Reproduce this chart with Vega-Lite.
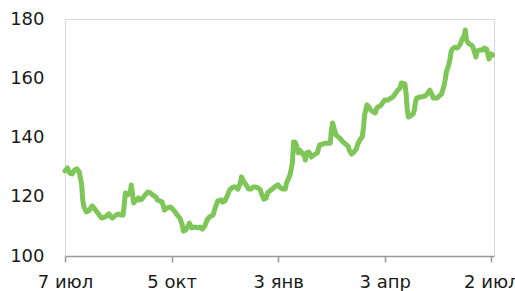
{
  "$schema": "https://vega.github.io/schema/vega-lite/v6.json",
  "width": 429,
  "height": 237,
  "autosize": {"type": "none"},
  "padding": {"left": 65, "top": 19, "right": 21, "bottom": 35},
  "background": "white",
  "config": {
    "view": {"stroke": "#d9d9d9", "strokeWidth": 1},
    "font": "DejaVu Sans"
  },
  "data": {
    "values": [
      {"date": "2014-07-07", "value": 128.7},
      {"date": "2014-07-09", "value": 129.7},
      {"date": "2014-07-11", "value": 128.0},
      {"date": "2014-07-13", "value": 127.7},
      {"date": "2014-07-15", "value": 129.0},
      {"date": "2014-07-17", "value": 129.4},
      {"date": "2014-07-19", "value": 128.4},
      {"date": "2014-07-20", "value": 126.3},
      {"date": "2014-07-21", "value": 124.3},
      {"date": "2014-07-22", "value": 118.9},
      {"date": "2014-07-23", "value": 116.5},
      {"date": "2014-07-25", "value": 114.9},
      {"date": "2014-07-27", "value": 115.2},
      {"date": "2014-07-30", "value": 116.9},
      {"date": "2014-08-01", "value": 115.9},
      {"date": "2014-08-03", "value": 114.9},
      {"date": "2014-08-06", "value": 113.2},
      {"date": "2014-08-07", "value": 112.8},
      {"date": "2014-08-10", "value": 113.2},
      {"date": "2014-08-11", "value": 113.5},
      {"date": "2014-08-13", "value": 114.2},
      {"date": "2014-08-15", "value": 113.2},
      {"date": "2014-08-16", "value": 112.8},
      {"date": "2014-08-19", "value": 113.8},
      {"date": "2014-08-21", "value": 114.2},
      {"date": "2014-08-23", "value": 113.8},
      {"date": "2014-08-25", "value": 113.8},
      {"date": "2014-08-26", "value": 117.2},
      {"date": "2014-08-27", "value": 121.3},
      {"date": "2014-08-29", "value": 120.6},
      {"date": "2014-08-31", "value": 121.6},
      {"date": "2014-09-01", "value": 124.0},
      {"date": "2014-09-03", "value": 117.9},
      {"date": "2014-09-05", "value": 118.9},
      {"date": "2014-09-07", "value": 119.6},
      {"date": "2014-09-08", "value": 118.9},
      {"date": "2014-09-10", "value": 119.2},
      {"date": "2014-09-12", "value": 120.3},
      {"date": "2014-09-15", "value": 121.6},
      {"date": "2014-09-17", "value": 121.3},
      {"date": "2014-09-19", "value": 120.6},
      {"date": "2014-09-22", "value": 119.9},
      {"date": "2014-09-23", "value": 118.9},
      {"date": "2014-09-25", "value": 118.6},
      {"date": "2014-09-27", "value": 118.2},
      {"date": "2014-09-28", "value": 116.9},
      {"date": "2014-09-29", "value": 115.5},
      {"date": "2014-10-01", "value": 116.2},
      {"date": "2014-10-04", "value": 116.5},
      {"date": "2014-10-05", "value": 116.2},
      {"date": "2014-10-08", "value": 114.9},
      {"date": "2014-10-09", "value": 114.2},
      {"date": "2014-10-12", "value": 112.8},
      {"date": "2014-10-14", "value": 110.5},
      {"date": "2014-10-15", "value": 108.4},
      {"date": "2014-10-17", "value": 108.8},
      {"date": "2014-10-19", "value": 110.1},
      {"date": "2014-10-20", "value": 111.1},
      {"date": "2014-10-22", "value": 109.5},
      {"date": "2014-10-25", "value": 109.8},
      {"date": "2014-10-27", "value": 109.5},
      {"date": "2014-10-29", "value": 109.8},
      {"date": "2014-10-31", "value": 109.1},
      {"date": "2014-11-02", "value": 110.1},
      {"date": "2014-11-04", "value": 112.2},
      {"date": "2014-11-06", "value": 113.2},
      {"date": "2014-11-09", "value": 113.8},
      {"date": "2014-11-11", "value": 116.5},
      {"date": "2014-11-13", "value": 118.6},
      {"date": "2014-11-16", "value": 118.9},
      {"date": "2014-11-17", "value": 118.2},
      {"date": "2014-11-19", "value": 118.6},
      {"date": "2014-11-21", "value": 120.3},
      {"date": "2014-11-23", "value": 122.3},
      {"date": "2014-11-26", "value": 123.3},
      {"date": "2014-11-28", "value": 123.3},
      {"date": "2014-11-30", "value": 122.6},
      {"date": "2014-12-02", "value": 124.6},
      {"date": "2014-12-03", "value": 126.7},
      {"date": "2014-12-05", "value": 125.0},
      {"date": "2014-12-07", "value": 124.0},
      {"date": "2014-12-09", "value": 122.6},
      {"date": "2014-12-11", "value": 122.6},
      {"date": "2014-12-13", "value": 123.3},
      {"date": "2014-12-15", "value": 123.3},
      {"date": "2014-12-17", "value": 123.0},
      {"date": "2014-12-19", "value": 122.3},
      {"date": "2014-12-20", "value": 120.9},
      {"date": "2014-12-22", "value": 119.2},
      {"date": "2014-12-24", "value": 119.6},
      {"date": "2014-12-25", "value": 121.3},
      {"date": "2014-12-28", "value": 122.3},
      {"date": "2014-12-29", "value": 122.6},
      {"date": "2015-01-01", "value": 123.6},
      {"date": "2015-01-03", "value": 124.0},
      {"date": "2015-01-04", "value": 123.3},
      {"date": "2015-01-07", "value": 122.6},
      {"date": "2015-01-09", "value": 122.6},
      {"date": "2015-01-10", "value": 124.6},
      {"date": "2015-01-13", "value": 127.3},
      {"date": "2015-01-15", "value": 131.4},
      {"date": "2015-01-16", "value": 138.5},
      {"date": "2015-01-17", "value": 138.5},
      {"date": "2015-01-18", "value": 137.8},
      {"date": "2015-01-20", "value": 134.8},
      {"date": "2015-01-21", "value": 135.8},
      {"date": "2015-01-23", "value": 134.8},
      {"date": "2015-01-25", "value": 133.8},
      {"date": "2015-01-26", "value": 132.4},
      {"date": "2015-01-27", "value": 134.8},
      {"date": "2015-01-29", "value": 135.1},
      {"date": "2015-01-31", "value": 133.4},
      {"date": "2015-02-01", "value": 133.8},
      {"date": "2015-02-05", "value": 134.8},
      {"date": "2015-02-06", "value": 136.1},
      {"date": "2015-02-07", "value": 137.5},
      {"date": "2015-02-10", "value": 137.8},
      {"date": "2015-02-11", "value": 138.1},
      {"date": "2015-02-14", "value": 138.1},
      {"date": "2015-02-16", "value": 138.1},
      {"date": "2015-02-17", "value": 142.5},
      {"date": "2015-02-18", "value": 144.9},
      {"date": "2015-02-20", "value": 141.9},
      {"date": "2015-02-21", "value": 140.8},
      {"date": "2015-02-24", "value": 139.8},
      {"date": "2015-02-26", "value": 138.8},
      {"date": "2015-02-28", "value": 138.1},
      {"date": "2015-03-03", "value": 137.1},
      {"date": "2015-03-04", "value": 135.8},
      {"date": "2015-03-06", "value": 134.4},
      {"date": "2015-03-08", "value": 135.1},
      {"date": "2015-03-10", "value": 136.1},
      {"date": "2015-03-11", "value": 137.5},
      {"date": "2015-03-13", "value": 139.2},
      {"date": "2015-03-15", "value": 140.2},
      {"date": "2015-03-16", "value": 143.2},
      {"date": "2015-03-17", "value": 147.6},
      {"date": "2015-03-19", "value": 151.0},
      {"date": "2015-03-21", "value": 150.0},
      {"date": "2015-03-23", "value": 148.9},
      {"date": "2015-03-26", "value": 148.3},
      {"date": "2015-03-27", "value": 149.6},
      {"date": "2015-03-28", "value": 150.3},
      {"date": "2015-03-30", "value": 150.6},
      {"date": "2015-03-31", "value": 151.0},
      {"date": "2015-04-03", "value": 152.7},
      {"date": "2015-04-06", "value": 152.7},
      {"date": "2015-04-07", "value": 153.0},
      {"date": "2015-04-10", "value": 153.7},
      {"date": "2015-04-11", "value": 154.3},
      {"date": "2015-04-14", "value": 156.0},
      {"date": "2015-04-16", "value": 156.7},
      {"date": "2015-04-17", "value": 158.4},
      {"date": "2015-04-20", "value": 158.1},
      {"date": "2015-04-21", "value": 155.0},
      {"date": "2015-04-22", "value": 149.3},
      {"date": "2015-04-23", "value": 146.9},
      {"date": "2015-04-25", "value": 147.3},
      {"date": "2015-04-27", "value": 147.9},
      {"date": "2015-04-28", "value": 149.3},
      {"date": "2015-04-29", "value": 152.0},
      {"date": "2015-04-30", "value": 153.3},
      {"date": "2015-05-03", "value": 153.7},
      {"date": "2015-05-04", "value": 153.7},
      {"date": "2015-05-07", "value": 154.0},
      {"date": "2015-05-08", "value": 154.3},
      {"date": "2015-05-11", "value": 156.0},
      {"date": "2015-05-13", "value": 154.3},
      {"date": "2015-05-14", "value": 153.3},
      {"date": "2015-05-15", "value": 153.3},
      {"date": "2015-05-17", "value": 153.3},
      {"date": "2015-05-19", "value": 154.0},
      {"date": "2015-05-21", "value": 154.7},
      {"date": "2015-05-23", "value": 157.4},
      {"date": "2015-05-24", "value": 159.4},
      {"date": "2015-05-25", "value": 162.1},
      {"date": "2015-05-27", "value": 164.5},
      {"date": "2015-05-28", "value": 166.2},
      {"date": "2015-05-29", "value": 168.9},
      {"date": "2015-05-30", "value": 169.9},
      {"date": "2015-06-01", "value": 170.5},
      {"date": "2015-06-03", "value": 170.2},
      {"date": "2015-06-04", "value": 170.5},
      {"date": "2015-06-06", "value": 171.6},
      {"date": "2015-06-07", "value": 172.9},
      {"date": "2015-06-09", "value": 174.3},
      {"date": "2015-06-10", "value": 176.3},
      {"date": "2015-06-11", "value": 172.9},
      {"date": "2015-06-13", "value": 171.6},
      {"date": "2015-06-15", "value": 171.2},
      {"date": "2015-06-16", "value": 170.9},
      {"date": "2015-06-17", "value": 169.9},
      {"date": "2015-06-19", "value": 167.2},
      {"date": "2015-06-20", "value": 169.2},
      {"date": "2015-06-22", "value": 169.5},
      {"date": "2015-06-24", "value": 169.5},
      {"date": "2015-06-26", "value": 170.2},
      {"date": "2015-06-27", "value": 169.5},
      {"date": "2015-06-28", "value": 169.9},
      {"date": "2015-06-30", "value": 166.5},
      {"date": "2015-07-01", "value": 167.5},
      {"date": "2015-07-02", "value": 168.2},
      {"date": "2015-07-03", "value": 167.8}
    ]
  },
  "mark": {
    "type": "line",
    "color": "#7dc657",
    "strokeWidth": 5,
    "strokeCap": "round",
    "strokeJoin": "round",
    "clip": false
  },
  "encoding": {
    "x": {
      "field": "date",
      "type": "temporal",
      "scale": {
        "type": "utc",
        "domain": [
          {"year": 2014, "month": 7, "date": 7, "utc": true},
          {"year": 2015, "month": 7, "date": 4, "hours": 6, "utc": true}
        ]
      },
      "axis": {
        "title": null,
        "values": [
          {"year": 2014, "month": 7, "date": 7, "utc": true},
          {"year": 2014, "month": 10, "date": 5, "utc": true},
          {"year": 2015, "month": 1, "date": 3, "utc": true},
          {"year": 2015, "month": 4, "date": 3, "utc": true},
          {"year": 2015, "month": 7, "date": 2, "utc": true}
        ],
        "labelExpr": "utcdate(datum.value) + ' ' + ['янв','фев','мар','апр','мая','июн','июл','авг','сен','окт','ноя','дек'][utcmonth(datum.value)]",
        "grid": false,
        "domainColor": "#999999",
        "domainWidth": 1.5,
        "tickColor": "#999999",
        "tickWidth": 1.5,
        "tickSize": 6,
        "labelFont": "DejaVu Sans",
        "labelFontSize": 18,
        "labelColor": "#1a1a1a",
        "labelPadding": 11,
        "labelFlush": false,
        "labelOverlap": false
      }
    },
    "y": {
      "field": "value",
      "type": "quantitative",
      "scale": {"domain": [100, 180], "nice": false, "zero": false},
      "axis": {
        "title": null,
        "values": [100, 120, 140, 160, 180],
        "grid": false,
        "domain": false,
        "ticks": false,
        "labelFont": "DejaVu Sans",
        "labelFontSize": 18,
        "labelColor": "#1a1a1a",
        "labelPadding": 21,
        "labelFlush": false,
        "labelOverlap": false
      }
    }
  }
}
